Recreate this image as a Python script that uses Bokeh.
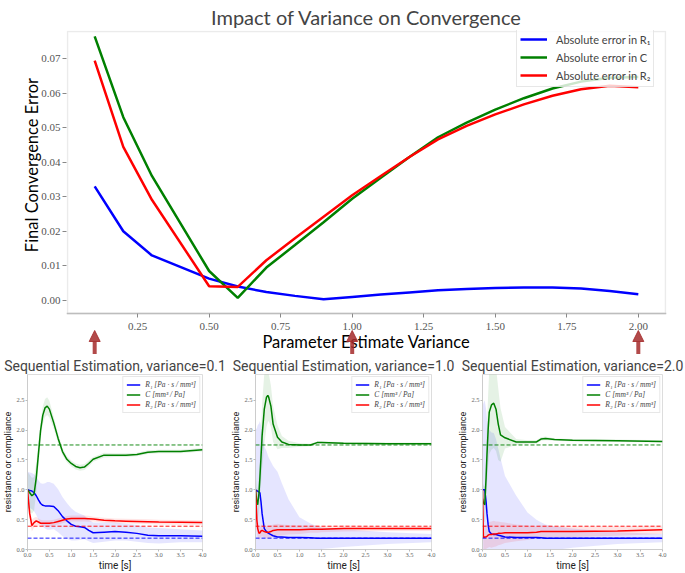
from bokeh.plotting import figure
from bokeh.layouts import column, row
from bokeh.models import (Arrow, NormalHead, FixedTicker, Legend, LegendItem, Span,
                          Range1d, NumeralTickFormatter, LinearAxis, BoxAnnotation)
from bokeh.embed import file_html
from bokeh.resources import INLINE

# ---------------- data: top chart ----------------
variance = [0.1, 0.2, 0.3, 0.5, 0.6, 0.7, 0.8, 0.9, 1.0, 1.1, 1.2, 1.3, 1.4, 1.5, 1.6, 1.7, 1.8, 1.9, 2.0]
err_R1 = [0.0330, 0.0200, 0.0130, 0.0063, 0.0040, 0.0024, 0.0013, 0.0003, 0.0010, 0.0017, 0.0023,
          0.0029, 0.0033, 0.0036, 0.0037, 0.0037, 0.0034, 0.0027, 0.0018]
err_C = [0.0764, 0.0530, 0.0360, 0.0085, 0.0007, 0.0095, 0.0160, 0.0226, 0.0294, 0.0355, 0.0415,
         0.0472, 0.0514, 0.0552, 0.0585, 0.0613, 0.0633, 0.0644, 0.0646]
err_R2 = [0.0694, 0.0444, 0.0291, 0.0041, 0.0039, 0.0116, 0.0180, 0.0242, 0.0304, 0.0360, 0.0415,
          0.0466, 0.0505, 0.0538, 0.0567, 0.0592, 0.0611, 0.0621, 0.0617]
top_labels = ["Absolute error in R₁", "Absolute error in C", "Absolute error in R₂"]
x_ticks = [0.25, 0.5, 0.75, 1.0, 1.25, 1.5, 1.75, 2.0]
y_ticks = [0.0, 0.01, 0.02, 0.03, 0.04, 0.05, 0.06, 0.07]
highlighted_variances = [0.1, 1.0, 2.0]

# ---------------- data: sequential estimation subplots ----------------
true_R1, true_C, true_R2 = 0.19, 1.75, 0.39
sub_labels = ["R₁ [Pa · s / mm³]", "C [mm³ / Pa]", "R₂ [Pa · s / mm³]"]
sub_titles = ["Sequential Estimation, variance=0.1", "Sequential Estimation, variance=1.0",
              "Sequential Estimation, variance=2.0"]
t_ticks = [0, 0.5, 1.0, 1.5, 2.0, 2.5, 3.0, 3.5, 4.0]
v_ticks = [0, 0.5, 1.0, 1.5, 2.0, 2.5]

t1 = [0, 0.05, 0.1, 0.15, 0.2, 0.25, 0.3, 0.35, 0.4, 0.45, 0.5, 0.6, 0.7, 0.8, 0.9, 1.0, 1.1, 1.2,
      1.3, 1.4, 1.5, 1.75, 2.0, 2.25, 2.5, 2.75, 3.0, 3.5, 4.0]
C1 = [1.00, 0.95, 0.90, 0.93, 1.20, 1.60, 2.00, 2.25, 2.37, 2.40, 2.35, 2.12, 1.86, 1.64, 1.51, 1.44,
      1.39, 1.37, 1.38, 1.44, 1.51, 1.58, 1.58, 1.58, 1.59, 1.63, 1.64, 1.64, 1.67]
C1_sd = [0.30, 0.30, 0.30, 0.28, 0.25, 0.20, 0.15, 0.15, 0.15, 0.15, 0.14, 0.10, 0.08, 0.06, 0.05, 0.05,
         0.05, 0.05, 0.05, 0.05, 0.04, 0.04, 0.03, 0.03, 0.03, 0.03, 0.03, 0.03, 0.03]
R1_1 = [1.00, 0.99, 0.98, 0.95, 0.90, 0.83, 0.77, 0.74, 0.73, 0.73, 0.73, 0.72, 0.65, 0.55, 0.48, 0.42,
        0.39, 0.38, 0.37, 0.32, 0.28, 0.29, 0.30, 0.29, 0.27, 0.24, 0.23, 0.23, 0.22]
R1_1_sd = [0.30, 0.30, 0.30, 0.31, 0.32, 0.33, 0.34, 0.36, 0.38, 0.40, 0.40, 0.38, 0.36, 0.33, 0.30,
           0.27, 0.24, 0.22, 0.20, 0.18, 0.17, 0.16, 0.15, 0.14, 0.14, 0.13, 0.13, 0.11, 0.10]
R2_1 = [1.00, 0.60, 0.40, 0.45, 0.48, 0.46, 0.44, 0.44, 0.44, 0.44, 0.44, 0.45, 0.47, 0.49, 0.51, 0.52,
        0.52, 0.52, 0.52, 0.515, 0.51, 0.49, 0.48, 0.475, 0.47, 0.465, 0.46, 0.455, 0.45]
R2_1_sd = [0.10, 0.12, 0.10, 0.08, 0.07, 0.06, 0.06, 0.05, 0.05, 0.05, 0.05, 0.05, 0.05, 0.05, 0.05,
           0.05, 0.05, 0.05, 0.05, 0.05, 0.04, 0.04, 0.04, 0.04, 0.04, 0.04, 0.04, 0.04, 0.04]

t2 = [0, 0.03, 0.05, 0.08, 0.1, 0.125, 0.15, 0.2, 0.25, 0.28, 0.3, 0.35, 0.4, 0.5, 0.6, 0.75, 1.0,
      1.25, 1.4, 1.5, 2.0, 3.0, 4.0]
C2 = [1.00, 0.80, 0.75, 0.95, 1.20, 1.55, 1.90, 2.35, 2.55, 2.58, 2.55, 2.40, 2.10, 1.88, 1.80, 1.76,
      1.75, 1.75, 1.79, 1.79, 1.78, 1.77, 1.77]
C2_sd = [0.30, 0.25, 0.25, 0.30, 0.35, 0.45, 0.55, 0.60, 0.50, 0.45, 0.40, 0.35, 0.30, 0.20, 0.10, 0.06,
         0.03, 0.02, 0.02, 0.02, 0.02, 0.02, 0.02]
R1_2 = [1.00, 0.98, 0.98, 0.96, 0.95, 0.80, 0.60, 0.35, 0.30, 0.28, 0.27, 0.25, 0.23, 0.21, 0.21, 0.20,
        0.20, 0.195, 0.19, 0.19, 0.19, 0.19, 0.19]
R1_2_sd = [1.00, 1.05, 1.10, 1.15, 1.20, 1.28, 1.35, 1.38, 1.35, 1.30, 1.27, 1.22, 1.17, 1.09, 0.90,
           0.64, 0.34, 0.24, 0.20, 0.18, 0.15, 0.10, 0.07]
R2_2 = [1.00, 0.50, 0.35, 0.27, 0.28, 0.31, 0.32, 0.30, 0.29, 0.29, 0.29, 0.30, 0.32, 0.33, 0.33, 0.33,
        0.33, 0.34, 0.34, 0.34, 0.35, 0.35, 0.35]
R2_2_sd = [0.20, 0.20, 0.15, 0.12, 0.10, 0.10, 0.10, 0.10, 0.10, 0.10, 0.10, 0.10, 0.10, 0.10, 0.09,
           0.08, 0.07, 0.06, 0.06, 0.05, 0.05, 0.04, 0.04]

t3 = [0, 0.02, 0.05, 0.08, 0.1, 0.125, 0.15, 0.2, 0.25, 0.3, 0.35, 0.4, 0.5, 0.75, 1.0, 1.2, 1.3, 1.4,
      1.6, 2.0, 3.0, 4.0]
C3 = [0.85, 0.78, 0.75, 1.20, 1.60, 2.00, 2.30, 2.42, 2.45, 2.35, 2.10, 1.92, 1.87, 1.80, 1.80, 1.80,
      1.85, 1.86, 1.84, 1.83, 1.82, 1.81]
C3_sd = [0.30, 0.30, 0.30, 0.40, 0.50, 0.60, 0.70, 0.75, 0.75, 0.70, 0.60, 0.45, 0.18, 0.05, 0.03, 0.03,
         0.03, 0.03, 0.02, 0.02, 0.02, 0.02]
R1_3 = [1.00, 1.00, 1.00, 0.80, 0.60, 0.42, 0.30, 0.26, 0.25, 0.25, 0.24, 0.23, 0.21, 0.20, 0.20, 0.20,
        0.195, 0.19, 0.19, 0.19, 0.19, 0.19]
R1_3_sd = [1.40, 1.45, 1.50, 1.55, 1.60, 1.65, 1.70, 1.70, 1.70, 1.60, 1.45, 1.30, 1.02, 0.70, 0.42,
           0.30, 0.26, 0.23, 0.20, 0.16, 0.10, 0.07]
R2_3 = [1.00, 0.20, 0.21, 0.21, 0.22, 0.24, 0.25, 0.25, 0.26, 0.26, 0.27, 0.27, 0.28, 0.28, 0.28, 0.29,
        0.30, 0.30, 0.30, 0.30, 0.31, 0.33]
R2_3_sd = [0.20, 0.20, 0.20, 0.20, 0.20, 0.21, 0.21, 0.22, 0.22, 0.21, 0.20, 0.19, 0.17, 0.14, 0.12,
           0.10, 0.10, 0.10, 0.09, 0.09, 0.08, 0.07]

# ---------------- layout helpers ----------------
S = 1.0


def s(v):
    return int(round(v * S))


def px(v):
    return f"{v * S:.1f}px"


BLUE, GREEN, RED = "#0000ff", "#008000", "#ff0000"
SPINE = "#bdbdbd"
ARROW = "#a52a2a"

TOP_H = 354

# ---------------- top figure ----------------
BX0, BX1 = 0.005, 2.095           # visible axes box (x)
BY0, BY1 = -0.0038, 0.0778        # visible axes box (y)
xpp = (BX1 - BX0) / 598           # data units per reference pixel
ypp = (BY1 - BY0) / 282
FX0, FX1 = BX0 - xpp, BX1 + xpp   # frame one pixel wider than the box
FY0, FY1 = BY0 - (TOP_H - 313) * ypp, BY1 + ypp   # frame extends under the axis to hold the arrows

top = figure(width=s(685), height=s(TOP_H),
             min_border_left=s(66), min_border_right=s(19), min_border_top=s(30), min_border_bottom=0,
             x_range=Range1d(FX0, FX1), y_range=Range1d(FY0, FY1),
             x_axis_location=None,
             output_backend="svg", toolbar_location=None)
top.title.text = "Impact of Variance on Convergence"
top.title.align = "center"
top.title.text_font = "Lato"
top.title.text_font_size = px(20)
top.title.text_font_style = "normal"
top.title.standoff = s(3)
top.grid.visible = False
top.outline_line_color = None

xaxis = LinearAxis(fixed_location=BY0)
top.add_layout(xaxis, "below")
xaxis.ticker = FixedTicker(ticks=x_ticks)
top.yaxis.ticker = FixedTicker(ticks=y_ticks)
xaxis.formatter = NumeralTickFormatter(format="0.00")
top.yaxis.formatter = NumeralTickFormatter(format="0.00")
for ax in (xaxis, top.yaxis[0]):
    ax.axis_line_color = SPINE
    ax.axis_line_width = 1.5
    ax.major_tick_line_color = "#888888"
    ax.major_tick_out = 4
    ax.major_tick_in = 0
    ax.minor_tick_line_color = None
    ax.major_label_text_font = "Liberation Serif"
    ax.major_label_text_font_size = px(11)
    ax.major_label_text_color = "#555555"
    ax.axis_label_text_font = "Lato"
    ax.axis_label_text_font_size = px(16.5)
    ax.axis_label_text_font_style = "normal"
    ax.axis_label_text_color = "black"
top.yaxis.axis_line_color = None
xaxis.axis_label = "Parameter Estimate Variance"
# leading no-break spaces keep the label centred on the visible axes box
top.yaxis.axis_label = "\u00a0" * 13 + "Final Convergence Error"
xaxis.major_label_standoff = 5
xaxis.axis_label_standoff = -1
top.yaxis.major_label_standoff = s(2)
top.yaxis.axis_label_standoff = -4

top.add_layout(BoxAnnotation(left=BX0, right=BX1, bottom=BY0, top=BY1, fill_alpha=0,
                             line_color=SPINE, line_width=1.5))

r_top1 = top.line(variance, err_R1, line_color=BLUE, line_width=2.5)
r_top2 = top.line(variance, err_C, line_color=GREEN, line_width=2.5)
r_top3 = top.line(variance, err_R2, line_color=RED, line_width=2.5)

top_legend = Legend(items=[LegendItem(label=top_labels[0], renderers=[r_top1]),
                           LegendItem(label=top_labels[1], renderers=[r_top2]),
                           LegendItem(label=top_labels[2], renderers=[r_top3])],
                    location=(s(450), s(TOP_H - 87)),
                    label_text_font="Lato", label_text_font_size=px(11),
                    glyph_width=s(27), glyph_height=s(16), label_height=s(16),
                    label_standoff=s(9), padding=s(3), spacing=s(2),
                    border_line_color="#d0d0d0", background_fill_alpha=0.8)
top.add_layout(top_legend)

# arrows pointing from each subplot up to its variance on the top axis
y_tip = BY0 - 17 * ypp
y_tail = BY0 - 80 * ypp
for xv in highlighted_variances:
    top.add_layout(Arrow(end=NormalHead(size=s(11), fill_color=ARROW, fill_alpha=0.85,
                                        line_color=ARROW, line_alpha=0.85),
                         x_start=xv, y_start=y_tail, x_end=xv, y_end=y_tip,
                         line_color=ARROW, line_alpha=0.85, line_width=s(4)))


# ---------------- subplots ----------------
def make_sub(title, t, c, c_sd, r1, r1_sd, r2, r2_sd, left, total, right):
    p = figure(width=s(total), height=s(573 - TOP_H),
               min_border_left=s(left), min_border_right=s(right), min_border_top=s(373 - TOP_H),
               min_border_bottom=s(24),
               x_range=Range1d(0, 4), y_range=Range1d(0, 2.93),
               output_backend="svg", toolbar_location=None)
    p.title.text = title
    p.title.align = "center"
    p.title.text_font = "Roboto"
    p.title.text_font_size = px(14)
    p.title.text_font_style = "normal"
    p.title.standoff = s(2)
    p.grid.visible = False
    p.outline_line_color = "#dddddd"
    p.xaxis.ticker = FixedTicker(ticks=t_ticks)
    p.yaxis.ticker = FixedTicker(ticks=v_ticks)
    p.xaxis.formatter = NumeralTickFormatter(format="0.0")
    p.yaxis.formatter = NumeralTickFormatter(format="0.0")
    for ax in (p.xaxis, p.yaxis):
        ax.axis_line_color = "#cccccc"
        ax.major_tick_line_color = "#bbbbbb"
        ax.major_tick_out = 2
        ax.major_tick_in = 0
        ax.minor_tick_line_color = None
        ax.major_label_text_font = "Liberation Serif"
        ax.major_label_text_font_size = px(6.5)
        ax.major_label_text_color = "#666666"
        ax.major_label_standoff = 1
        ax.axis_label_text_font = "Roboto"
        ax.axis_label_text_font_style = "normal"
        ax.axis_label_text_color = "#222222"
        ax.axis_label_standoff = 0
    p.xaxis.axis_label = "time [s]"
    p.xaxis.axis_label_text_font_size = px(10)
    p.yaxis.axis_label = "resistance or compliance"
    p.yaxis.axis_label_text_font_size = px(9)

    for vals, sd, col in ((r1, r1_sd, BLUE), (c, c_sd, GREEN), (r2, r2_sd, RED)):
        lo = [v - d for v, d in zip(vals, sd)]
        hi = [v + d for v, d in zip(vals, sd)]
        p.varea(x=t, y1=lo, y2=hi, fill_color=col, fill_alpha=0.1)
    lr1 = p.line(t, r1, line_color=BLUE, line_width=1.5)
    lc = p.line(t, c, line_color=GREEN, line_width=1.5)
    lr2 = p.line(t, r2, line_color=RED, line_width=1.5)
    for val, col in ((true_R1, BLUE), (true_C, GREEN), (true_R2, RED)):
        p.add_layout(Span(location=val, dimension="width", line_color=col, line_width=1,
                          line_dash="4 2", line_alpha=0.9))
    leg = Legend(items=[LegendItem(label=sub_labels[0], renderers=[lr1]),
                        LegendItem(label=sub_labels[1], renderers=[lc]),
                        LegendItem(label=sub_labels[2], renderers=[lr2])],
                 location="top_right", margin=s(2),
                 label_text_font="Liberation Serif", label_text_font_style="italic",
                 label_text_font_size=px(7.5), glyph_width=s(14), glyph_height=s(9),
                 label_height=s(9), label_standoff=s(5), padding=s(3), spacing=s(1),
                 border_line_color="#d0d0d0", background_fill_alpha=0.8)
    p.add_layout(leg)
    return p


sp1 = make_sub(sub_titles[0], t1, C1, C1_sd, R1_1, R1_1_sd, R2_1, R2_1_sd, 25, 228, 26)
sp2 = make_sub(sub_titles[1], t2, C2, C2_sd, R1_2, R1_2_sd, R2_2, R2_2_sd, 25, 227, 24)
sp3 = make_sub(sub_titles[2], t3, C3, C3_sd, R1_3, R1_3_sd, R2_3, R2_3_sd, 27, 230, 23)

layout = column(top, row(sp1, sp2, sp3))
open("out.html", "w").write(file_html(layout, INLINE))
